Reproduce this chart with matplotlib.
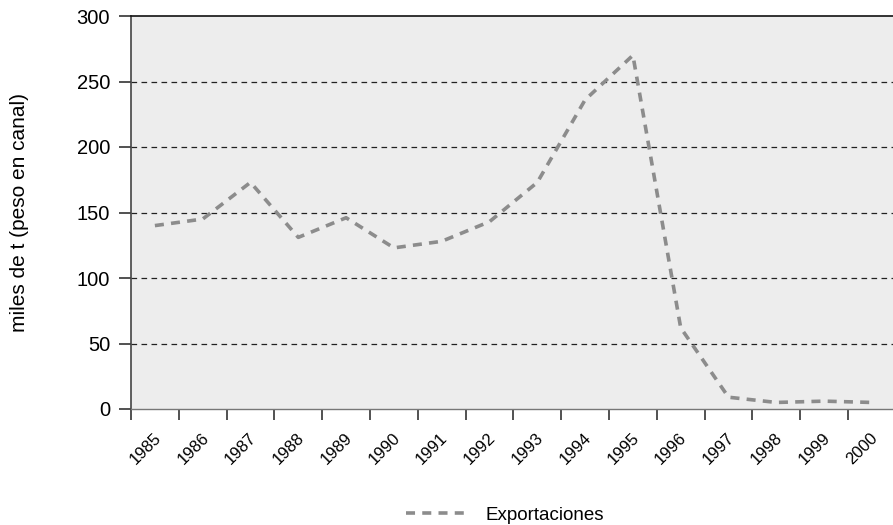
import matplotlib
matplotlib.use("Agg")
import matplotlib.pyplot as plt
import matplotlib.transforms as mtransforms
import numpy as np

years = ["1985", "1986", "1987", "1988", "1989", "1990", "1991", "1992",
         "1993", "1994", "1995", "1996", "1997", "1998", "1999", "2000"]
exportaciones = [140, 145, 173, 131, 146, 123, 128, 143,
                 173, 236, 270, 62, 9, 5, 6, 5]
yticks = [0, 50, 100, 150, 200, 250, 300]

plt.rcParams['font.family'] = ['Liberation Sans', 'DejaVu Sans']

fig = plt.figure(figsize=(8.93, 5.25), dpi=100)
ax = fig.add_axes([131/893, 1-409/525, 1-131/893, (409-16)/525])
ax.set_facecolor('#ededed')

x = np.arange(len(years))
ax.plot(x, exportaciones, color='#8c8c8c', lw=2.6, ls=(0, (2.5, 2.0)),
        label='Exportaciones', solid_capstyle='butt', dash_capstyle='butt')

ax.set_ylim(0, 300)
ax.set_xlim(-0.5, -0.5 + (893-131)/47.8)

ax.set_yticks(yticks)
ax.set_yticklabels([str(v) for v in yticks], fontsize=14.5)
for v in yticks[1:-1]:
    ax.axhline(v, color='#222222', lw=0.9, ls=(0, (4.5, 3.5)), zorder=1)
ax.axhline(300, color='#111111', lw=1.2, zorder=3, clip_on=False)

ax.set_xticks(np.arange(len(years)) - 0.5, minor=True)
ax.set_xticks(x)
ax.set_xticklabels(years, rotation=45, ha='right', va='top', fontsize=12)
ax.tick_params(axis='x', which='major', length=0, pad=15)
ax.tick_params(axis='x', which='minor', length=8, width=1.2, color='#333333')
ax.tick_params(axis='y', length=9, width=1.2, color='#333333', pad=6)
offset = mtransforms.ScaledTranslation(9/100, 0, fig.dpi_scale_trans)
for lab in ax.get_xticklabels():
    lab.set_transform(lab.get_transform() + offset)

for s in ['top', 'right']:
    ax.spines[s].set_visible(False)
ax.spines['left'].set_color('#444444')
ax.spines['left'].set_linewidth(1.2)
ax.spines['bottom'].set_color('#777777')
ax.spines['bottom'].set_linewidth(1.0)

ax.set_ylabel('miles de t (peso en canal)', fontsize=15)
ax.yaxis.set_label_coords(-(131-20)/762, 0.5)
ax.yaxis.label.set_va('center')

fig.legend(loc='center', bbox_to_anchor=(505/893, 1-515/525), frameon=False,
           fontsize=13.5, handlelength=3.2, handletextpad=1.0)

fig.savefig('out.png', dpi=100)
